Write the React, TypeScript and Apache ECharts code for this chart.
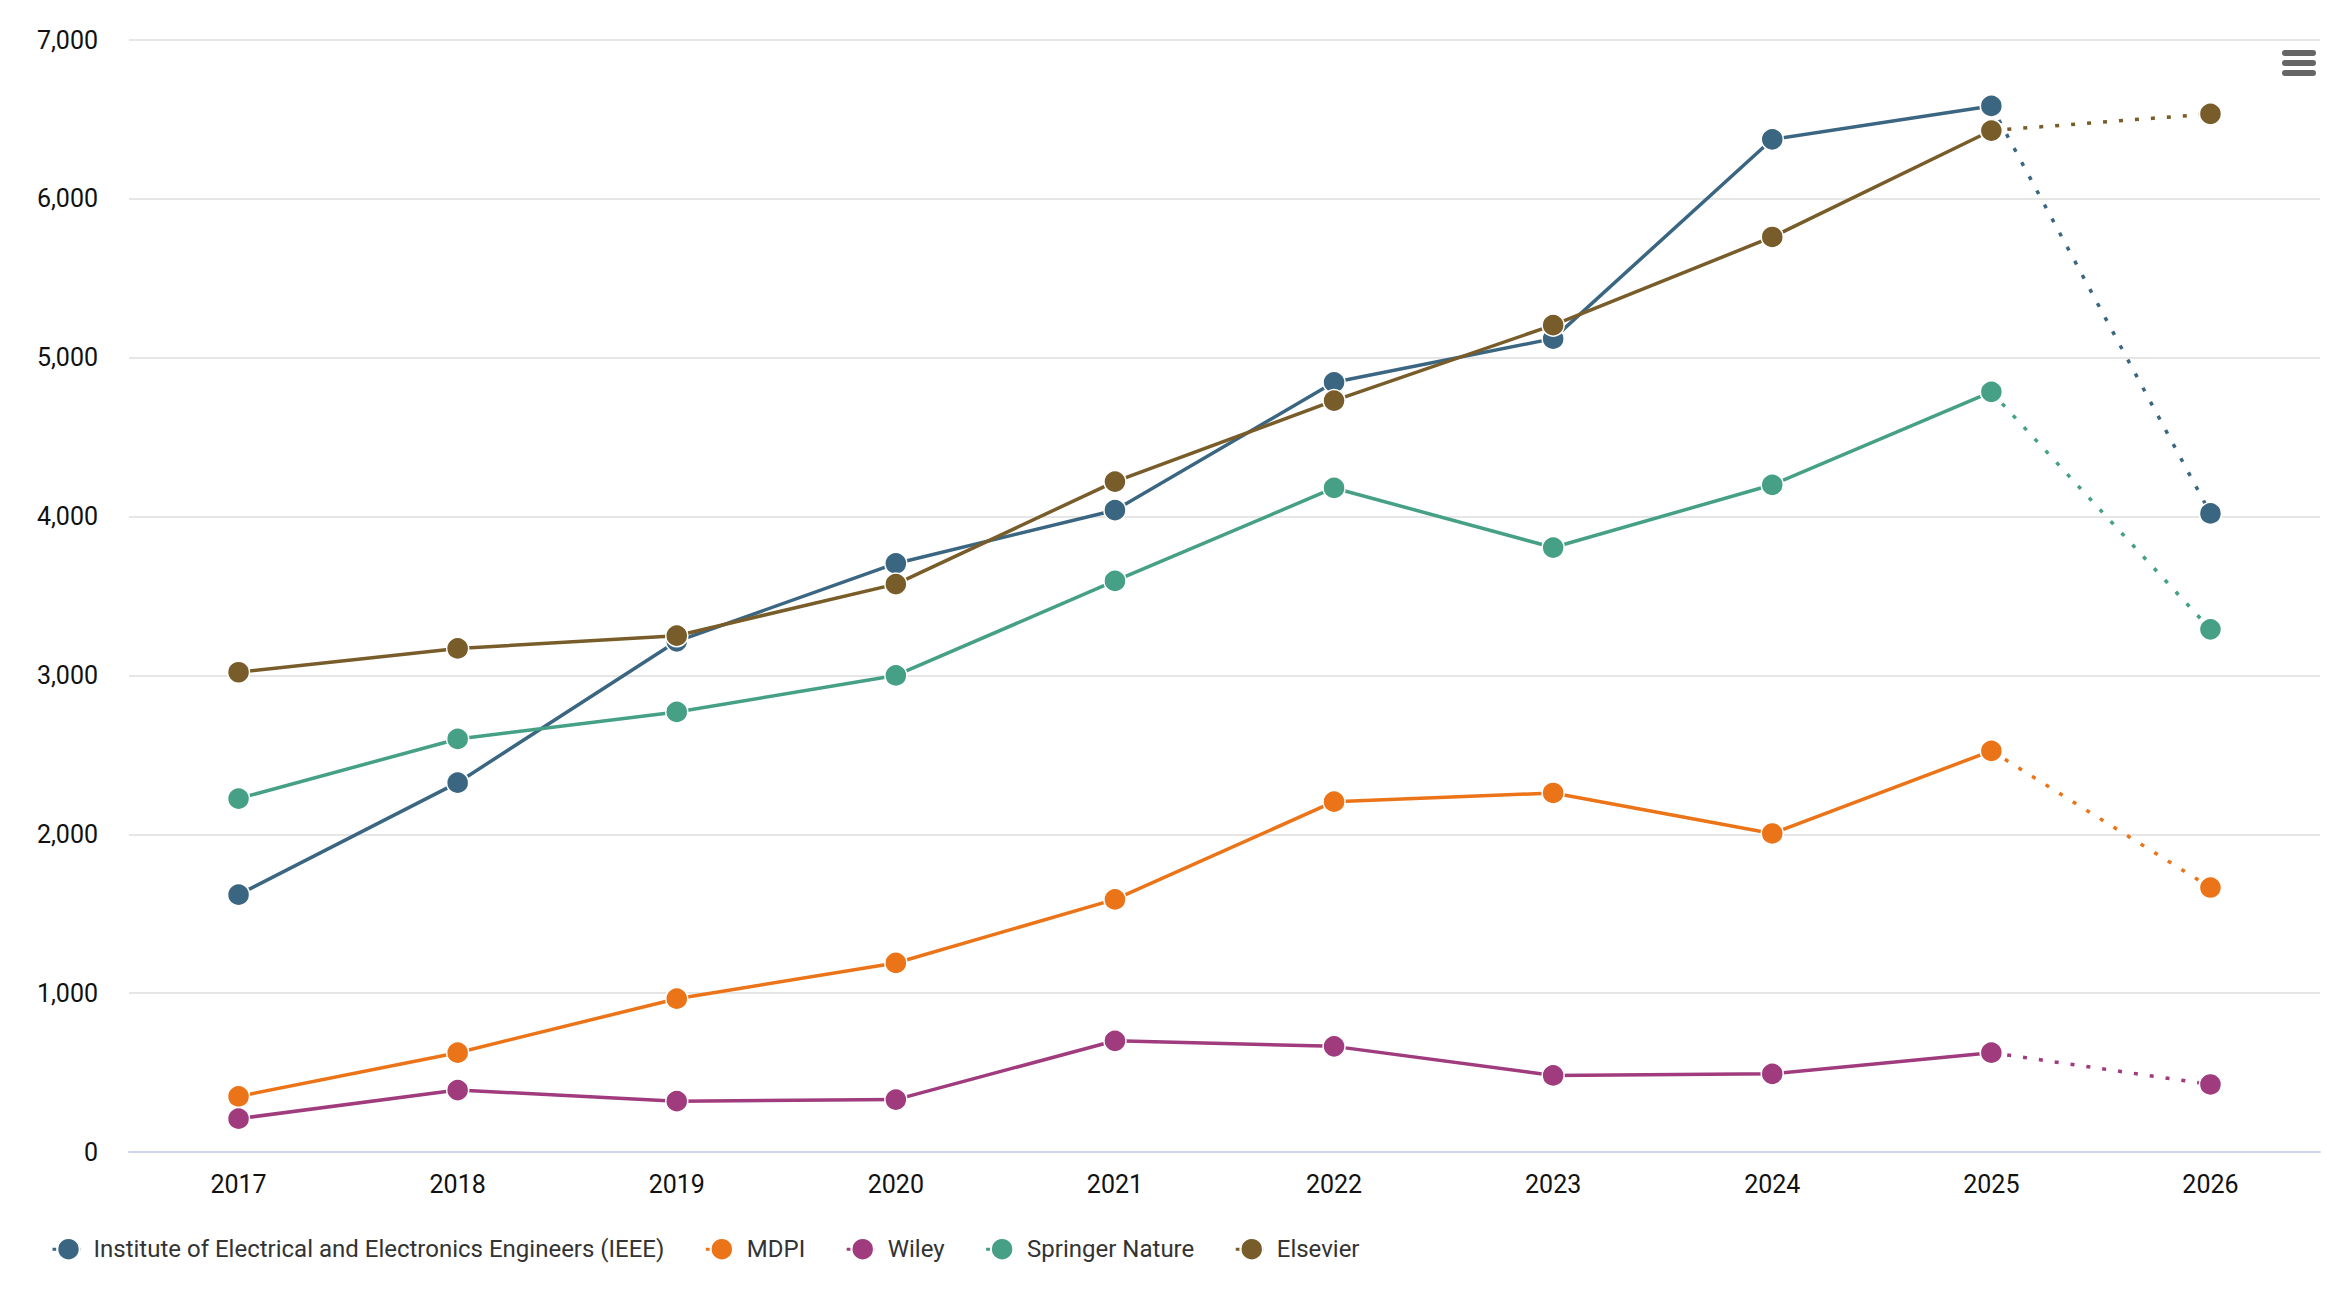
import React, { useEffect, useRef } from "react";
import * as echarts from "echarts";

const years = ["2017", "2018", "2019", "2020", "2021", "2022", "2023", "2024", "2025", "2026"];
const publishers = [
  "Institute of Electrical and Electronics Engineers (IEEE)",
  "MDPI",
  "Wiley",
  "Springer Nature",
  "Elsevier",
];
const colors = ["#3b6682", "#ec7418", "#a03b7e", "#45a086", "#785c29"];

const ieee = [1620, 2325, 3215, 3705, 4040, 4845, 5120, 6375, 6585, 4020];
const mdpi = [350, 625, 965, 1190, 1590, 2205, 2260, 2005, 2525, 1665];
const wiley = [210, 390, 320, 330, 700, 665, 482, 492, 625, 425];
const springer = [2225, 2600, 2770, 3000, 3595, 4180, 3805, 4200, 4785, 3290];
const elsevier = [3020, 3170, 3250, 3575, 4220, 4730, 5205, 5760, 6430, 6535];

const allValues = [ieee, mdpi, wiley, springer, elsevier];

export default function App() {
  const ref = useRef<HTMLDivElement>(null);
  useEffect(() => {
    if (!ref.current) return;
    const chart = echarts.init(ref.current, undefined, { renderer: "svg" });
    const series: any[] = [];
    publishers.forEach((name, i) => {
      const vals = allValues[i];
      const last = vals.length - 1;
      const common = {
        type: "line",
        name,
        symbol: "circle",
        symbolSize: 22,
        color: colors[i],
        itemStyle: { color: colors[i], borderColor: "#ffffff", borderWidth: 1.5 },
        connectNulls: false,
      };
      series.push({
        ...common,
        data: vals.map((v, k) => (k < last ? v : null)),
        lineStyle: { color: colors[i], width: 3.5, type: "solid" },
      });
      series.push({
        ...common,
        data: vals.map((v, k) => (k >= last - 1 ? v : null)),
        lineStyle: { color: colors[i], width: 3.5, type: [4, 12] },
      });
    });
    chart.setOption({
      animation: false,
      backgroundColor: "#ffffff",
      textStyle: { fontFamily: "Roboto" },
      grid: { left: 129, right: 32, top: 40, bottom: 144, containLabel: false },
      xAxis: {
        type: "category",
        data: years,
        boundaryGap: true,
        axisLine: { show: true, lineStyle: { color: "#ccd6eb", width: 2 } },
        axisTick: { show: false },
        axisLabel: { fontSize: 25, color: "#111111", margin: 20, fontFamily: "Roboto" },
        splitLine: { show: false },
      },
      yAxis: {
        type: "value",
        min: 0,
        max: 7000,
        interval: 1000,
        axisLine: { show: false },
        axisTick: { show: false },
        axisLabel: {
          fontSize: 25,
          color: "#111111",
          margin: 31,
          fontFamily: "Roboto",
          formatter: (v: number) => v.toLocaleString("en-US"),
        },
        splitLine: { show: true, lineStyle: { color: "#e6e6e6", width: 2 } },
      },
      legend: {
        left: 46,
        top: 1232,
        orient: "horizontal",
        itemWidth: 32,
        itemHeight: 28,
        itemGap: 40,
        data: publishers,
        textStyle: { fontSize: 24, color: "#333333", fontFamily: "Roboto", padding: [0, 0, 0, 4] },
        lineStyle: { type: [4, 8], width: 3 },
      },
      graphic: [
        {
          type: "group",
          left: 2282,
          top: 50,
          children: [0, 10, 20].map((y) => ({
            type: "rect",
            shape: { x: 0, y, width: 34, height: 6, r: 3 },
            style: { fill: "#666666" },
          })),
        },
      ],
      series,
    });
    return () => chart.dispose();
  }, []);
  return (
    <div
      ref={ref}
      style={{ position: "fixed", left: 0, top: 0, width: 2352, height: 1296, background: "#fff" }}
    />
  );
}
